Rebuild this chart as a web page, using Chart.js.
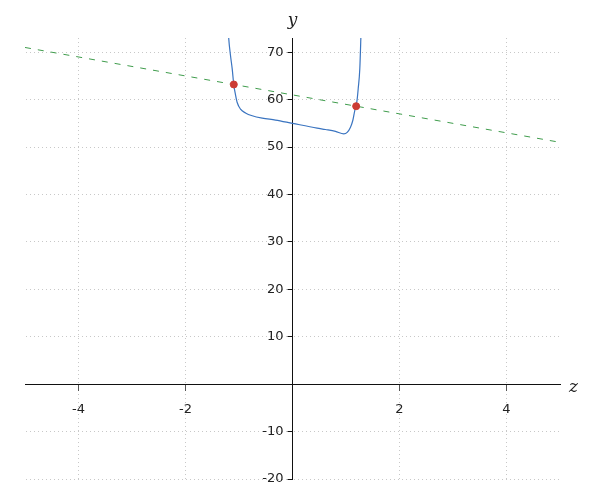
<!DOCTYPE html>
<html>
<head>
<meta charset="utf-8">
<script src="https://cdn.jsdelivr.net/npm/chart.js@4.4.1/dist/chart.umd.min.js"></script>
<style>
  html, body { margin: 0; padding: 0; background: #fff; }
  #wrap { width: 600px; height: 500px; }
</style>
</head>
<body>
<div id="wrap"><canvas id="plot"></canvas></div>
<script>
// curve (z, y)
const curveZ = [-1.215, -1.191, -1.159, -1.127, -1.097, -1.065, -1.034, -0.972, -0.879, -0.753, -0.566, -0.318, 0.0, 0.46, 0.617, 0.804, 0.959, 1.022, 1.084, 1.127, 1.164, 1.19, 1.209, 1.228, 1.258, 1.277, 1.29];
const curveY = [78, 72.8, 69.3, 66.5, 63.1, 61.0, 59.4, 58.0, 57.2, 56.6, 56.1, 55.7, 55.0, 54.0, 53.7, 53.3, 52.8, 53.1, 54.2, 55.6, 57.7, 58.7, 60.1, 62.3, 66.5, 72.8, 78];

// dashed straight line
const lineZ = [-5, 5];
const lineY = [71, 51];

// intersection points
const dotZ = [-1.097, 1.19];
const dotY = [63.2, 58.62];

const xTicks = [-4, -2, 2, 4];
const yTicks = [-20, -10, 10, 20, 30, 40, 50, 60, 70];

const pairs = (xs, ys) => xs.map((v, i) => ({ x: v, y: ys[i] }));

// put the y axis on z = 0, labels stay on its left side
const moveYAxis = {
  id: 'moveYAxis',
  afterLayout(chart) {
    const zero = chart.scales.x.getPixelForValue(0);
    chart.scales.y.left = zero - 60;
    chart.scales.y.right = zero;
  }
};

const axisTitles = {
  id: 'axisTitles',
  afterDraw(chart) {
    const { ctx, scales: { x, y } } = chart;
    ctx.save();
    ctx.font = 'italic 17px "DejaVu Serif"';
    ctx.fillStyle = '#222';
    ctx.textBaseline = 'alphabetic';
    ctx.textAlign = 'center';
    ctx.fillText('y', x.getPixelForValue(0), y.top - 13);
    ctx.textAlign = 'left';
    ctx.fillText('z', x.right + 9, y.getPixelForValue(0) + 8);
    ctx.restore();
  }
};

const gridDots = '#c8c8c8';

new Chart(document.getElementById('plot'), {
  type: 'scatter',
  data: {
    datasets: [
      {
        data: pairs(dotZ, dotY),
        backgroundColor: '#cc3b34',
        borderColor: '#cc3b34',
        pointRadius: 3.5,
        order: 0
      },
      {
        data: pairs(curveZ, curveY),
        showLine: true,
        borderColor: '#3a74c0',
        borderWidth: 1.2,
        pointRadius: 0,
        cubicInterpolationMode: 'monotone',
        order: 1
      },
      {
        data: pairs(lineZ, lineY),
        showLine: true,
        borderColor: '#3f9c4c',
        borderWidth: 1,
        borderDash: [6, 7],
        pointRadius: 0,
        order: 2
      }
    ]
  },
  options: {
    responsive: true,
    maintainAspectRatio: false,
    animation: false,
    layout: { padding: { left: 25, right: 40, top: 38, bottom: 21 } },
    plugins: {
      legend: { display: false },
      tooltip: { enabled: false }
    },
    scales: {
      x: {
        type: 'linear',
        min: -5,
        max: 5,
        position: { y: 0 },
        afterBuildTicks: s => { s.ticks = xTicks.map(v => ({ value: v })); },
        grid: {
          color: gridDots,
          tickColor: '#555',
          tickLength: 6
        },
        border: { color: '#111', width: 1, dash: [1, 3] },
        ticks: {
          color: '#222',
          padding: 12,
          maxRotation: 0,
          autoSkip: false,
          font: { family: '"DejaVu Sans"', size: 13 }
        }
      },
      y: {
        type: 'linear',
        min: -20,
        max: 73,
        position: 'left',
        afterFit: s => { s.width = 0; },
        afterBuildTicks: s => { s.ticks = yTicks.map(v => ({ value: v })); },
        grid: {
          color: gridDots,
          tickColor: '#111',
          tickLength: 5
        },
        border: { color: '#111', width: 1, dash: [1, 3] },
        ticks: {
          color: '#222',
          padding: 4,
          autoSkip: false,
          font: { family: '"DejaVu Sans"', size: 13 }
        }
      }
    }
  },
  plugins: [moveYAxis, axisTitles]
});
</script>
</body>
</html>
